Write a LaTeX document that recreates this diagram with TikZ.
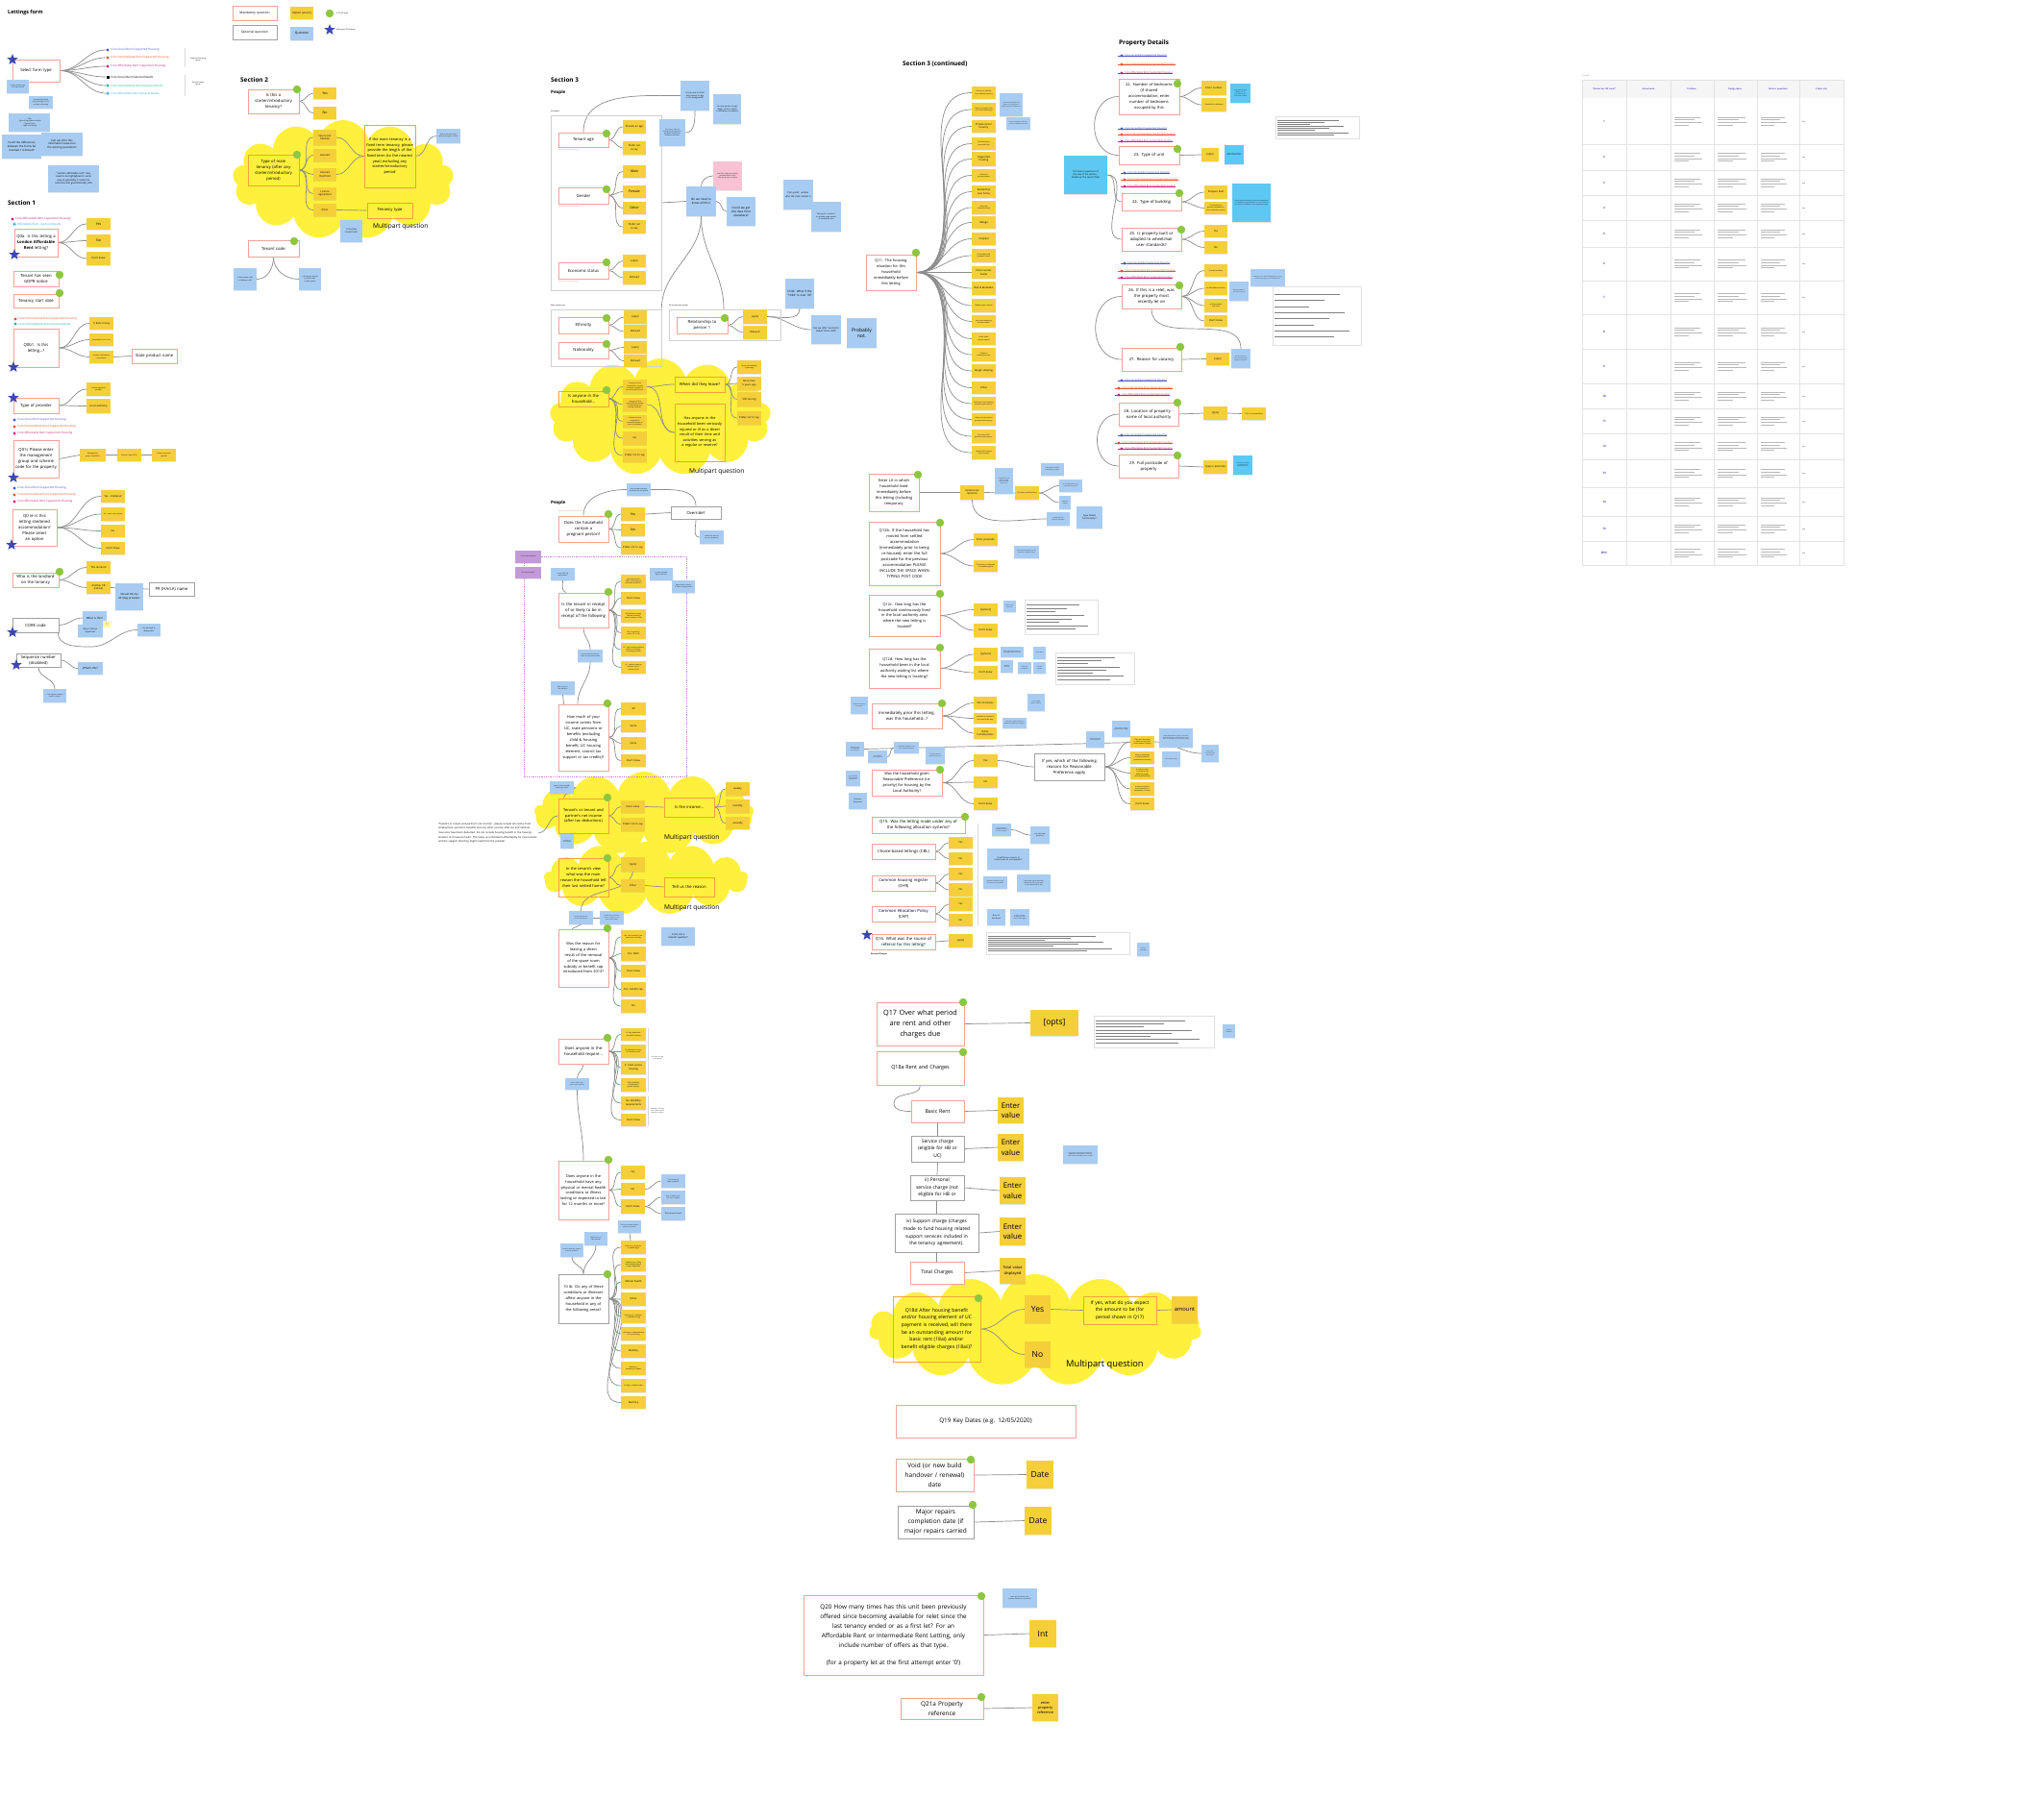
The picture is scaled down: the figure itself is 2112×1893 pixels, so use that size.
\documentclass[tikz,border=0pt]{standalone}
\usepackage{fontspec}
\setmainfont{Open Sans}
\usetikzlibrary{shapes.geometric,shapes.symbols,shadows,calc}
\hyphenpenalty=10000 \exhyphenpenalty=10000
\definecolor{salm}{HTML}{EFA397}
\definecolor{greyb}{HTML}{A0A0A0}
\definecolor{orab}{HTML}{F2A23C}
\definecolor{yel}{HTML}{F5CF3A}
\definecolor{cloudy}{HTML}{FEF03C}
\definecolor{bluen}{HTML}{A8CCF1}
\definecolor{bright}{HTML}{5DC8F4}
\definecolor{pinkn}{HTML}{F6C2D4}
\definecolor{purpn}{HTML}{C39AD9}
\definecolor{gdot}{HTML}{8DC641}
\definecolor{starc}{HTML}{3D47B2}
\definecolor{conn}{HTML}{8C8C8C}
\definecolor{cSoc}{HTML}{4B55C8}
\definecolor{cInt}{HTML}{E8512E}
\definecolor{cAff}{HTML}{C8207E}
\definecolor{cIGN}{HTML}{1CB598}
\definecolor{cAGN}{HTML}{3DA5E0}
\definecolor{tabh}{HTML}{5B45C2}
\definecolor{gridc}{HTML}{E3E3E3}
\pgfdeclarelayer{back}\pgfdeclarelayer{cloudl}\pgfdeclarelayer{bg}
\pgfsetlayers{back,cloudl,bg,main}
\newcommand\fs[2]{\fontsize{#1}{#2}\selectfont}
\newcommand\Bx[7]{%
 \pgfmathsetmacro\bw{#5-#3}\pgfmathsetmacro\bh{#6-#4}%
 \pgfmathsetmacro\bcx{(#3+#5)/2}\pgfmathsetmacro\bcy{(#4+#6)/2}%
 \pgfmathsetmacro\btw{max(#5-#3-4,1)}%
 \node[inner sep=0pt, align=center, minimum width=\bw pt, minimum height=\bh pt, text width=\btw pt, #1] (#2) at (\bcx,\bcy) {#7};}
\newcommand\Dot[2]{\fill[gdot] (#1,#2) circle (4.2);}
\newcommand\St[3]{\node[star, star points=5, star point ratio=2.4, fill=starc, minimum size=12pt, inner sep=0pt] (#1) at (#2,#3) {};}
\newcommand\Ln[1]{\begin{pgfonlayer}{bg}\draw[cn] #1;\end{pgfonlayer}}
\newcommand\Fan[2]{\begin{pgfonlayer}{bg}\foreach \fn in {#2}{\draw[cn] (#1.east) to[out=0,in=180] (\fn.west);}\end{pgfonlayer}}
\newcommand\Lg[5]{\fill[#4] (#2,#3) circle (1.6); \node[anchor=west, text=#4, inner sep=0pt, font=\fs{3}{3.5}] (#1) at (#2+3,#3) {#5};}
\newcommand\LgQ[5]{\fill[#4] (#2-1.5,#3-1.5) rectangle ++(3,3); \node[anchor=west, text=#4, inner sep=0pt, font=\fs{3}{3.5}] (#1) at (#2+3,#3) {#5};}
\newcommand\LgT[5]{\fill[#4] (#2,#3-1.8) -- (#2+1.8,#3+1.4) -- (#2-1.8,#3+1.4) -- cycle; \node[anchor=west, text=#4, inner sep=0pt, font=\fs{3}{3.5}] (#1) at (#2+3,#3) {#5};}
\newcommand\LgX[5]{\node[anchor=west, text=#4, inner sep=0pt, font=\fs{2.6}{3}] (#1) at (#2+3,#3) {#5}; \draw[#4, line width=0.4pt] (#2-4,#3) -- (#1.east); \fill[#4] (#2,#3) circle (1.6);}
\newcommand\Shot[5]{\Bx{fill=white,draw=black!12,line width=0.3pt}{#1}{#2}{#3}{#4}{#5}{}%
 \pgfmathsetmacro\shh{#5-#3}\pgfmathsetmacro\shw{#4-#2-4}%
 \foreach \k in {1,...,8}{\draw[black!50,line width=0.5pt] ({#2+2},{#3+2+\k*(\shh-4)/9}) -- ++({\shw*(0.35+0.06*mod(\k*37,10))},0);}}
\tikzset{
 cn/.style={draw=conn, line width=0.7pt},
 mq/.style={draw=salm, line width=0.9pt, fill=white, font=\fs{4.2}{6}},
 oq/.style={draw=greyb, line width=0.9pt, fill=white, font=\fs{4.2}{6}},
 cq/.style={draw=orab, line width=0.9pt, font=\fs{4.2}{6}},
 shd/.style={drop shadow={shadow xshift=0pt, shadow yshift=-1pt, opacity=0.18}},
 yo/.style={fill=yel, shd, font=\fs{3.5}{4.5}},
 ys/.style={fill=yel, shd, font=\fs{2.6}{3.4}},
 yt/.style={fill=yel, shd, font=\fs{1.7}{2.2}},
 bn/.style={fill=bluen, shd, font=\fs{2.2}{2.9}},
 bb/.style={fill=bright, shd, font=\fs{2.4}{3.2}},
 pn/.style={fill=pinkn, shd, font=\fs{1.6}{2.1}},
 ttl/.style={font=\bfseries\fs{6.4}{8}, anchor=west, inner sep=0pt},
 mp/.style={font=\fs{6.6}{8}, anchor=west, inner sep=0pt},
 cont/.style={draw=black!18, line width=0.6pt},
 tn/.style={font=\fs{1.9}{2.4}, anchor=west, inner sep=0pt},
 cld/.style={cloud, cloud puffs=13, cloud ignores aspect, fill=cloudy, inner sep=0pt},
}
\begin{document}
\begin{tikzpicture}[x=1pt,y=-1pt]
\begin{pgfonlayer}{back}
\fill[white] (0,0) rectangle (2112,1893);
\end{pgfonlayer}
\useasboundingbox (0,0) rectangle (2112,1893);
% ---------------- clouds
\begin{pgfonlayer}{cloudl}
\node[cld, minimum width=230pt, minimum height=124pt] (cl1) at (357,187) {};
\node[cld, minimum width=230pt, minimum height=122pt] (cl2) at (687,434) {};
\node[cld, minimum width=228pt, minimum height=86pt] (cl3) at (670,846) {};
\node[cld, minimum width=212pt, minimum height=76pt] (cl4) at (672,914) {};
\node[cld, cloud puffs=15, minimum width=345pt, minimum height=116pt] (cl5) at (1077,1384) {};
\end{pgfonlayer}
% ---------------- legend
\node[ttl, font=\bfseries\fs{5.4}{7}] (t0) at (8,13) {Lettings form};
\Bx{mq,font=\fs{3.3}{4.3}}{lgM}{242}{6}{288}{21}{Mandatory question}
\Bx{oq,font=\fs{3.3}{4.3}}{lgO}{242}{26}{288}{41}{Optional question}
\Bx{yo,font=\fs{2.8}{3.5}}{lgY}{302}{7}{326}{20}{Option (enum)}
\Bx{bn,font=\fs{3.3}{4}}{lgB}{302}{28}{326}{42}{Question}
\Dot{343}{14}
\node[tn] (lgD) at (350,14) {In TG-68 map};
\St{lgS}{343}{31}
\node[tn] (lgSt) at (350,31) {Missing in TG-68 map};
% ---------------- select form type
\Bx{mq}{sft}{13}{62}{62}{85}{Select form type}
\St{s0}{13}{62}
\Lg{f1}{112}{52}{cSoc}{Core Social Rent Supported Housing}
\Lg{f2}{112}{60}{cInt}{Core Intermediate Rent Supported Housing}
\Lg{f3}{112}{69}{cAff}{Core Affordable Rent Supported Housing}
\LgQ{f4}{112}{80}{black}{Core Social Rent General Needs}
\Lg{f5}{112}{89}{cIGN}{Core Intermediate Rent General Needs}
\LgT{f6}{112}{97}{cAGN}{Core Affordable Rent General Needs}
\begin{pgfonlayer}{bg}
\foreach \fn in {f1,f2,f3,f4,f5,f6}{\draw[cn] (sft.east) to[out=0,in=180] ($(\fn.west)+(-5,0)$);}
\end{pgfonlayer}
\draw[black!15] (192,50) -- (192,70) (192,78) -- (192,100);
\node[font=\fs{1.8}{2.3}, align=center, inner sep=0pt] (grpS) at (206,62) {Supported housing\\group};
\node[font=\fs{1.8}{2.3}, align=center, inner sep=0pt] (grpG) at (206,87) {General needs\\group};
\Bx{bn,font=\fs{1.6}{2.1}}{n1}{7}{83}{30}{97}{Is there a way to get rid of this choice?}
\Bx{bn,font=\fs{1.6}{2.1}}{n2}{30}{100}{55}{113}{Automatically decide using what type of unit and type of housing}
\Bx{bn,font=\fs{1.8}{2.4}}{n3}{9}{118}{52}{137}{- Year\\- Type of tag (new or active)\\- Type of form\\- Type of housing}
\Bx{bn,font=\fs{2.8}{3.7}}{n4}{2}{140}{43}{165}{Could the differences between the forms be resolved / removed?}
\Bx{bn,font=\fs{2.8}{3.7}}{n5}{43}{138}{86}{162}{Can we infer this information based on the existing questions?}
\Bx{bn,font=\fs{2.5}{3.4}}{n6}{50}{172}{103}{200}{"London affordable rent" may need to be highlighted in some way as generally it make the sentence feel grammatically odd}
% ---------------- Section 1
\node[ttl] (t1) at (8,211) {Section 1};
\Lg{l1a}{13}{228}{cAff}{Core Affordable Rent Supported Housing}
\LgT{l1b}{15}{233}{cAGN}{Affordable Rent - General Needs}
\Bx{mq}{q0a}{15}{238}{60}{267}{Q0a. Is this letting a \textbf{London Affordable Rent} letting?}
\St{s1}{15}{265}
\Bx{yo}{q0aY}{90}{227}{115}{239}{Yes}
\Bx{yo}{q0aN}{90}{244}{115}{257}{No}
\Bx{ys}{q0aD}{90}{262}{115}{276}{Don't know}
\Fan{q0a}{q0aY,q0aN,q0aD}
\Bx{mq}{gdpr}{14}{282}{61}{298}{Tenant has seen GDPR notice}
\Dot{62}{286}
\Bx{mq}{tsd}{14}{306}{61}{320}{Tenancy start date}
\Dot{62}{305}
\Lg{l1c}{16}{332}{cInt}{Core Intermediate Rent Supported Housing}
\Lg{l1d}{16}{337}{cIGN}{Core Intermediate Rent General Needs}
\Bx{mq}{q0b}{14}{342}{61}{382}{Q0b1. Is this letting...?}
\St{s2}{14}{382}
\Bx{ys}{q0b1}{93}{330}{118}{343}{1) Rent to buy}
\Bx{yt}{q0b2}{93}{347}{118}{360}{Intermediate rent / rent}
\Bx{yt}{q0b3}{93}{365}{118}{378}{Another intermediate rent product}
\Fan{q0b}{q0b1,q0b2,q0b3}
\Bx{mq}{spn}{137}{363}{184}{378}{State product name}
\Ln{(q0b3.east) -- (spn.west)}
\Bx{mq}{topv}{14}{414}{61}{430}{Type of provider}
\St{s3}{14}{414}
\Bx{yt}{topP}{90}{398}{115}{412}{Private registered provider}
\Bx{ys}{topL}{90}{415}{115}{430}{Local authority}
\Fan{topv}{topP,topL}
\Lg{l1e}{15}{437}{cSoc}{Core Social Rent Supported Housing}
\Lg{l1f}{15}{444}{cInt}{Core Intermediate Rent Supported Housing}
\Lg{l1g}{15}{451}{cAff}{Core Affordable Rent Supported Housing}
\Bx{mq}{q01c}{14}{458}{61}{497}{Q01c Please enter the management group and scheme code for the property}
\St{s4}{14}{497}
\Bx{yt}{mg}{83}{467}{110}{480}{Management group code (MPG)}
\Bx{yt}{sc}{122}{467}{147}{480}{Scheme Code (OPTS)}
\Bx{yt}{spc}{158}{467}{183}{480}{Scheme postcode (autofill)}
\Ln{(q01c.east) -- (mg.west)}
\Ln{(mg.east) -- (sc.west)}
\Ln{(sc.east) -- (spc.west)}
\Lg{l1h}{15}{508}{cSoc}{Core Social Rent Supported Housing}
\Lg{l1i}{15}{515}{cInt}{Core Intermediate Rent Supported Housing}
\Lg{l1j}{15}{522}{cAff}{Core Affordable Rent Supported Housing}
\Bx{mq}{q0ie}{13}{530}{59}{568}{Q0 Ie is this letting sheltered accommodation? Please select an option}
\St{s5}{12}{567}
\Bx{ys}{shA}{105}{510}{130}{523}{Yes - sheltered}
\Bx{yt}{shB}{105}{528}{130}{542}{Yes - extra care housing}
\Bx{ys}{shC}{105}{546}{130}{559}{No}
\Bx{ys}{shD}{105}{564}{130}{577}{Don't know}
\Fan{q0ie}{shA,shB,shC,shD}
\Bx{mq}{lord}{13}{596}{61}{611}{Who is the landlord on the tenancy}
\Dot{62}{595}
\Bx{ys}{lordA}{90}{584}{115}{597}{This landlord}
\Bx{ys}{lordB}{90}{605}{115}{618}{Another PR (HA/LA)}
\Fan{lord}{lordA,lordB}
\Bx{bn,font=\fs{2.7}{3.6}}{rpq}{120}{607}{149}{635}{Should this be RP (Reg provider)}
\Bx{oq}{prn}{155}{606}{202}{620}{PR (HA/LA) name}
\Ln{(lordB.east) -- (prn.west)}
\Bx{oq}{core}{13}{643}{61}{658}{CORE code}
\St{s6}{13}{658}
\Bx{bn,font=\fs{2.8}{3.6}}{wit}{86}{636}{111}{650}{What is this?}
\Bx{bn}{wib}{81}{650}{107}{663}{Why is this an input box?}
\Bx{fill=yellow!40,font=\fs{2}{2.5}}{qq}{107}{646}{115}{653}{??}
\Bx{bn,font=\fs{1.9}{2.5}}{dis}{143}{649}{167}{662}{Do we need to display this?}
\Ln{(core.east) to[out=0,in=180] (wit.west)}
\Ln{($(core.south east)+(-1,0)$) to[out=-90,in=180] (95,673) to[out=0,in=180] (dis.west)}
\Bx{oq}{seq}{17}{680}{63}{694}{Sequence number (disabled)}
\St{s7}{17}{692}
\Bx{bn,font=\fs{2.8}{3.6}}{wts}{81}{689}{107}{702}{What's this?}
\Bx{bn,font=\fs{1.5}{2}}{seqn}{45}{717}{69}{731}{Is the sequence number useful for tag ID?}
\Ln{(seq.east) to[out=0,in=180] (wts.west)}
\Ln{(seq.south) to[out=-90,in=90] (seqn.north)}
% ---------------- Section 2
\node[ttl] (t2) at (250,83) {Section 2};
\Bx{mq}{stq}{258}{93}{311}{118}{Is this a\\starter/introductory\\tenancy?}
\Dot{309}{93}
\Bx{yo}{stY}{326}{91}{350}{103}{Yes}
\Bx{yo}{stN}{326}{111}{350}{124}{No}
\Fan{stq}{stY,stN}
\Bx{cq}{tmt}{258}{161}{311}{193}{Type of main tenancy (after any starter/introductory period)}
\Dot{309}{161}
\Bx{ys}{tm1}{326}{135}{350}{151}{Secure (inc flexible)}
\Bx{ys}{tm2}{326}{155}{350}{168}{Assured}
\Bx{ys}{tm3}{326}{175}{350}{188}{Assured Shorthold}
\Bx{ys}{tm4}{326}{195}{350}{208}{Licence Agreement}
\Bx{ys}{tm5}{326}{212}{350}{225}{Other}
\Fan{tmt}{tm1,tm2,tm3,tm4,tm5}
\Bx{cq,font=\fs{3.9}{5.6}}{fxt}{379}{130}{432}{195}{If the main tenancy is a fixed term tenancy, please provide the length of the fixed term (to the nearest year) excluding any starter/introductory period}
\Bx{cq}{tty}{382}{211}{429}{227}{Tenancy type}
\Ln{(tm1.east) to[out=0,in=180] (fxt.west)}
\Ln{(tm3.east) to[out=0,in=180] (fxt.west)}
\Ln{(tm5.east) -- (tty.west)}
\Bx{bn,font=\fs{1.5}{2}}{fxn}{454}{134}{479}{149}{How do the users know what tenancy type is "fixed"?}
\Ln{(fxt.east) to[out=0,in=180] (fxn.west)}
\node[mp] (mp1) at (388,236) {Multipart question};
\Bx{bn,font=\fs{2.2}{2.9}}{flw}{354}{229}{377}{252}{Is the flow correct here?}
\Bx{mq}{tcd}{258}{250}{311}{267}{Tenant code}
\Dot{306}{251}
\Bx{bn,font=\fs{1.8}{2.4}}{tc1}{243}{279}{267}{302}{Is this tenant code or tenancy code?}
\Bx{bn,font=\fs{1.6}{2.1}}{tc2}{311}{279}{334}{302}{Is this always entered by the provider in their system?}
\Ln{(tcd.south) to[out=-90,in=0] (tc1.east)}
\Ln{(tcd.south) to[out=-90,in=180] (tc2.west)}
% ---------------- Section 3 people
\node[ttl] (t3) at (573,83) {Section 3};
\node[ttl, font=\bfseries\fs{4.5}{6}] (ppl1) at (573,96) {People};
\node[tn] (apl) at (573,116) {All people};
\Bx{cont}{c1}{573}{120}{688}{302}{}
\Bx{mq}{tage}{581}{138}{633}{153}{Tenant age}
\Dot{631}{139}
\node[tn, text=red!60, font=\fs{1.5}{2}] (tagr) at (581,156) {Required for new tenants only};
\Bx{ys}{ta1}{648}{125}{672}{139}{Provide an age}
\Bx{ys}{ta2}{648}{147}{672}{161}{Prefer not to say}
\Fan{tage}{ta1,ta2}
\Bx{mq}{gen}{581}{195}{633}{212}{Gender}
\Dot{631}{197}
\node[tn, text=red!60, font=\fs{1.5}{2}] (genr) at (581,215) {Required for new tenants only};
\Bx{yo}{g1}{648}{172}{672}{185}{Male}
\Bx{yo}{g2}{648}{193}{672}{206}{Female}
\Bx{yo}{g3}{648}{210}{672}{223}{Other}
\Bx{ys}{g4}{648}{229}{672}{243}{Prefer not to say}
\Fan{gen}{g1,g2,g3,g4}
\Bx{mq}{eco}{581}{273}{633}{290}{Economic status}
\Dot{631}{273}
\node[tn, text=red!60, font=\fs{1.5}{2}] (ecor) at (581,293) {Required for new tenants only};
\Bx{ys}{e1}{648}{265}{672}{278}{[opts]}
\Bx{ys}{e2}{648}{282}{672}{296}{Refused}
\Fan{eco}{e1,e2}
\Bx{bn,font=\fs{2}{2.7}}{dob}{708}{84}{738}{115}{Can we ask for DOB and convert to age in the background?}
\Bx{bn,font=\fs{2}{2.7}}{arng}{742}{98}{771}{129}{Can we ask for an age range? (If this is what is ultimately in analysis)}
\Bx{bn,font=\fs{1.5}{2}}{ppa}{686}{124}{713}{152}{Pain point: some of having to enter age when age would otherwise be a different calculation}
\Ln{(tage.north) to[out=90,in=180] (dob.west)}
\Ln{(ppa.east) to[out=0,in=-90] (dob.south)}
\Bx{pn}{pnk}{742}{168}{772}{198}{Useful for helping to identify trends/patterns across different groups of tenants}
\Bx{bn,font=\fs{3}{4}}{dwn}{714}{194}{745}{225}{Do we need to know all this?}
\Bx{bn,font=\fs{3}{4}}{cwg}{756}{205}{786}{235}{Could we get this data from elsewhere?}
\Bx{bn,font=\fs{2.4}{3.2}}{pp1n}{815}{187}{846}{218}{Pain point: unclear who the main tenant is}
\Bx{bn,font=\fs{1.9}{2.5}}{pp2n}{844}{210}{875}{241}{Pain point: unclear if to include main tenant in household size}
\Ln{(688,211) -- (dwn.west)}
\Ln{(dwn.north) to[out=90,in=180] (pnk.west)}
\Ln{(dwn.east) to[out=0,in=180] (cwg.west)}
\node[tn] (mto) at (573,318) {Main tenant only};
\Bx{cont}{c2}{573}{322}{688}{381}{}
\node[tn] (aem) at (696,318) {All except main tenant};
\Bx{cont}{c3}{696}{322}{812}{354}{}
\Ln{(dwn.south) to[out=-90,in=90] (c2.north east)}
\Ln{(dwn.south) to[out=-90,in=90] (753,322)}
\Bx{mq}{eth}{581}{330}{633}{347}{Ethnicity}
\Dot{631}{331}
\Bx{ys}{et1}{649}{323}{673}{337}{[opts]}
\Bx{ys}{et2}{649}{338}{673}{352}{Refused}
\Fan{eth}{et1,et2}
\Bx{mq}{nat}{581}{356}{633}{373}{Nationality}
\Dot{631}{358}
\Bx{ys}{na1}{649}{355}{673}{368}{[opts]}
\Bx{ys}{na2}{649}{369}{673}{382}{Refused}
\Fan{nat}{na1,na2}
\Bx{mq}{rel}{704}{330}{757}{347}{Relationship to\\person 1}
\Dot{754}{331}
\Bx{ys}{re1}{773}{322}{798}{337}{[opts]}
\Bx{ys}{re2}{773}{339}{798}{353}{Refused}
\Fan{rel}{re1,re2}
\Bx{bn,font=\fs{3}{4}}{chd}{817}{290}{847}{321}{Child: What if the "child" is over 18?}
\Bx{bn,font=\fs{2.4}{3.3}}{infc}{844}{328}{875}{358}{Can we infer "economic status" from child?}
\Bx{bn,font=\fs{5}{6.4}}{pbn}{881}{331}{912}{362}{Probably not.}
\Ln{(re1.east) to[out=0,in=-90] (chd.south)}
\Ln{(re1.east) to[out=0,in=180] (infc.west)}
% armed forces cloud
\Bx{cq}{anyq}{581}{407}{633}{423}{Is anyone in the household...}
\Dot{631}{406}
\Bx{yt}{an1}{648}{395}{673}{410}{Is anyone in the household a current or former member of the UK Armed Forces?}
\Bx{yt}{an2}{648}{414}{673}{428}{Is anyone in the household the spouse or civil partner of a serving member?}
\Bx{yt}{an3}{648}{432}{673}{445}{Is anyone in the household a bereaved spouse of a service member?}
\Bx{ys}{an4}{648}{449}{673}{463}{No}
\Bx{ys}{an5}{648}{467}{673}{481}{Prefer not to say}
\Fan{anyq}{an1,an2,an3,an4,an5}
\Bx{cq}{wdl}{702}{392}{754}{408}{When did they leave?}
\Bx{cq,font=\fs{3.8}{5.6}}{inj}{702}{420}{754}{480}{Has anyone in the household been seriously injured or ill as a direct result of their time and activities serving as a regular or reserve?}
\Ln{(an1.east) to[out=0,in=180] (wdl.west)}
\Ln{(an1.east) to[out=0,in=180] (inj.west)}
\Ln{(an2.east) to[out=0,in=180] (inj.west)}
\Bx{yt}{wl1}{767}{375}{792}{389}{Up to and including 5 years ago}
\Bx{ys}{wl2}{767}{392}{792}{406}{More than 5 years ago}
\Bx{ys}{wl3}{767}{408}{792}{423}{Still serving}
\Bx{ys}{wl4}{767}{428}{792}{442}{Prefer not to say}
\Fan{wdl}{wl1,wl2,wl3,wl4}
\node[mp] (mp2) at (717,491) {Multipart question};
% ---------------- People 2
\node[ttl, font=\bfseries\fs{4.5}{6}] (ppl2) at (573,523) {People};
\Bx{bn,font=\fs{1.5}{2}}{pgq}{652}{503}{677}{516}{Is this pregnant member included in the household?}
\Bx{mq}{prg}{581}{537}{633}{564}{Does the household contain a pregnant person?}
\Dot{633}{535}
\node[tn, text=red!60, font=\fs{1.5}{2}] (prgr) at (581,532) {Why is this asked? Is this data used?};
\Bx{yo}{pg1}{646}{528}{671}{542}{Yes}
\Bx{yo}{pg2}{646}{545}{671}{558}{No}
\Bx{ys}{pg3}{646}{563}{671}{577}{Prefer not to say}
\Fan{prg}{pg1,pg2,pg3}
\Bx{oq}{ovr}{698}{527}{750}{540}{Override?}
\Bx{bn,font=\fs{1.5}{2}}{ovn}{728}{552}{753}{566}{Should this override be in the questions?}
\Ln{(pg1.east) -- (ovr.west)}
\Ln{(prg.north) to[out=90,in=180] (pgq.west)}
\Ln{(pgq.east) to[out=0,in=90] (ovr.north)}
\Ln{(ovr.south) to[out=-90,in=180] (ovn.west)}
\draw[densely dotted, draw=purpn!80!magenta, line width=0.8pt] (545,579) rectangle (714,808);
\Bx{fill=purpn,shd,font=\fs{1.5}{2}}{pu1}{536}{573}{563}{586}{Is this a new question?}
\Bx{fill=purpn,shd,font=\fs{1.5}{2}}{pu2}{536}{590}{563}{602}{Are these needed?}
\Bx{mq}{rcpt}{581}{617}{633}{653}{Is the tenant in receipt of or likely to be in receipt of the following}
\Dot{633}{616}
\Bx{yt}{rc1}{646}{598}{672}{612}{Housing Benefit (HB) or in receipt of Universal Credit (UC)}
\Bx{ys}{rc2}{646}{616}{672}{629}{Don't know}
\Bx{yt}{rc3}{646}{634}{672}{648}{UC (without housing element) and HB (and in receipt of HB)}
\Bx{yt}{rc4}{646}{652}{672}{665}{Not in receipt of either UC or HB}
\Bx{yt}{rc5}{646}{669}{672}{683}{UC - with housing element (and not in receipt of housing benefit)}
\Bx{yt}{rc6}{646}{688}{672}{701}{UC - without housing element (and in receipt of HB)}
\Fan{rcpt}{rc1,rc2,rc3,rc4,rc5,rc6}
\Bx{bn,font=\fs{1.6}{2.1}}{jmt}{573}{591}{598}{604}{Is this JUST the main tenant?}
\Bx{bn,font=\fs{1.6}{2.1}}{btw}{676}{591}{700}{604}{Is there a better way to ask this?}
\Bx{bn,font=\fs{1.5}{2}}{msrc}{699}{604}{723}{617}{Maybe find out source of "their" housing benefit}
\Ln{(jmt.south) to[out=-90,in=160] ($(rcpt.north west)+(8,0)$)}
\Bx{bn,font=\fs{1.4}{1.9}}{cfr}{601}{676}{627}{689}{Could we infer this from the answer to the question below?}
\Bx{bn,font=\fs{1.5}{2}}{wyu}{573}{709}{598}{723}{Who is "you" in this question?}
\Bx{mq,font=\fs{3.9}{5.9}}{hmi}{581}{733}{633}{802}{How much of your income comes from UC, state pensions or benefits (excluding child \& housing benefit, UC housing element, council tax support or tax credits)?}
\Dot{632}{732}
\Bx{ys}{hm1}{646}{731}{672}{744}{All}
\Bx{ys}{hm2}{646}{749}{672}{762}{Some}
\Bx{ys}{hm3}{646}{767}{672}{780}{None}
\Bx{ys}{hm4}{646}{785}{672}{798}{Don't know}
\Fan{hmi}{hm1,hm2,hm3,hm4}
\Ln{(rcpt.south) to[out=-90,in=90] (cfr.north)}
\Ln{(cfr.south) to[out=-90,in=90] ($(hmi.north)+(-6,0)$)}
\Ln{(wyu.south) to[out=-90,in=90] ($(hmi.north west)+(6,0)$)}
% income cloud
\Bx{cq,font=\fs{3.9}{5.8}}{nin}{581}{831}{633}{867}{Tenant's or tenant and partner's net income (after tax deductions)}
\Dot{632}{830}
\Bx{ys}{ni1}{646}{833}{671}{846}{Enter value}
\Bx{ys}{ni2}{646}{851}{671}{865}{Prefer not to say}
\Fan{nin}{ni1,ni2}
\Bx{cq}{isi}{691}{830}{743}{850}{Is the income...}
\Ln{(ni1.east) -- (isi.west)}
\Bx{ys}{wk}{755}{814}{780}{828}{weekly}
\Bx{ys}{mo}{755}{832}{780}{846}{monthly}
\Bx{ys}{yr}{755}{850}{780}{863}{annually}
\Fan{isi}{wk,mo,yr}
\node[mp] (mp3) at (691,872) {Multipart question};
\Bx{bn,font=\fs{1.5}{2}}{nb1}{572}{813}{597}{826}{What if we are actually trying to get here?}
\Bx{bn,font=\fs{1.2}{1.6}}{nb2}{583}{868}{597}{883}{Could we ask this differently?}
\Ln{(nb1.east) to[out=0,in=90] ($(nin.north west)+(6,0)$)}
\node[font=\fs{2.6}{4.6}, text width=104pt, align=left, inner sep=0pt, anchor=north west] (para) at (456,856) {"Tenant's or tenant and partner's net income" - please include all income from employment, pensions, benefits and any other sources after tax and national insurance have been deducted. Do not include housing benefit or the housing element of Universal Credit. This helps us understand affordability for new tenants and the support that they might need from the provider.};
\Ln{(para.east) to[out=0,in=180] (nin.west)}
% reason cloud
\Bx{cq,font=\fs{3.9}{5.8}}{rsn}{581}{893}{633}{933}{In the tenant's view what was the main reason the household left their last settled home?}
\Dot{632}{893}
\Bx{ys}{rs1}{646}{892}{671}{907}{[opts]}
\Bx{ys}{rs2}{646}{915}{671}{928}{Other}
\Fan{rsn}{rs1,rs2}
\Bx{cq}{tur}{691}{913}{743}{933}{Tell us the reason}
\Ln{(rs2.east) -- (tur.west)}
\node[mp] (mp4) at (691,945) {Multipart question};
\Bx{bn,font=\fs{1.3}{1.8}}{rb1}{592}{948}{617}{962}{Can we have this from the last settled home?}
\Bx{bn,font=\fs{1.3}{1.8}}{rb2}{624}{948}{649}{962}{Do we need to know the reason, or only if it is one of the reasons below?}
\Ln{(rb1.east) -- (rb2.west)}
\Ln{(rs1.south) to[out=-100,in=90] (rb1.north)}
\Bx{mq,font=\fs{3.9}{5.8}}{wtr}{581}{967}{633}{1027}{Was the reason for leaving a direct result of the removal of the spare room subsidy or benefit cap introduced from 2013?}
\Dot{632}{966}
\Ln{(rb1.south) -- ($(wtr.north)+(-12,0)$)}
\Bx{yt}{wr1}{646}{968}{672}{982}{Yes: the removal of the spare room subsidy}
\Bx{ys}{wr2}{646}{985}{672}{1000}{Yes: Both}
\Bx{ys}{wr3}{646}{1004}{672}{1017}{Don't know}
\Bx{ys}{wr4}{646}{1022}{672}{1037}{Yes: benefit cap}
\Bx{ys}{wr5}{646}{1040}{672}{1054}{No}
\Fan{wtr}{wr1,wr2,wr3,wr4,wr5}
\Bx{bn,font=\fs{2.4}{3.2}}{srq}{688}{965}{723}{984}{Is this still a relevant question?}
% requirements
\Bx{mq}{req}{581}{1081}{633}{1107}{Does anyone in the household require...}
\Dot{632}{1080}
\Bx{yt}{rq1}{646}{1070}{672}{1083}{A: Fully wheelchair accessible housing}
\Bx{yt}{rq2}{646}{1087}{672}{1101}{B: Wheelchair access to essential rooms}
\Bx{ys}{rq3}{646}{1104}{672}{1118}{C: Level access housing}
\Bx{yt}{rq4}{646}{1122}{672}{1136}{Other disability requirements (please specify)}
\Bx{ys}{rq5}{646}{1141}{672}{1155}{No disability requirements}
\Bx{ys}{rq6}{646}{1159}{672}{1172}{Don't know}
\Fan{req}{rq1,rq2,rq3,rq4,rq5,rq6}
\draw[black!15] (674,1070) -- (674,1136) (674,1141) -- (674,1172);
\node[font=\fs{1.4}{1.9}, text width=15pt, align=center, inner sep=0pt] (rqn1) at (684,1101) {Can select as many as are relevant};
\node[font=\fs{1.4}{1.9}, text width=15pt, align=center, inner sep=0pt] (rqn2) at (684,1156) {Validation: selecting one of these should deselect any others};
\Bx{bn,font=\fs{1.3}{1.8}}{rqb}{588}{1122}{613}{1134}{Can we reduce these require health questions?}
\Ln{(req.south) to[out=-90,in=90] (rqb.north)}
% health
\Bx{mq,font=\fs{3.9}{5.8}}{hlt}{581}{1208}{633}{1269}{Does anyone in the household have any physical or mental health conditions or illness lasting or expected to last for 12 months or more?}
\Dot{633}{1207}
\Ln{(rqb.south) to[out=-90,in=90] (hlt.north)}
\Bx{ys}{hl1}{646}{1213}{671}{1227}{Yes}
\Bx{ys}{hl2}{646}{1231}{671}{1244}{No}
\Bx{ys}{hl3}{646}{1248}{671}{1263}{Don't know}
\Fan{hlt}{hl1,hl2,hl3}
\Bx{bn,font=\fs{1.5}{2}}{hb1}{688}{1222}{713}{1236}{Say "not asking health questions"}
\Bx{bn,font=\fs{1.5}{2}}{hb2}{688}{1239}{713}{1253}{Why is "prefer not to say" not an option?}
\Bx{bn,font=\fs{1.9}{2.5}}{hb3}{688}{1256}{713}{1270}{Who doesn't know?}
\Ln{(hl2.east) to[out=0,in=180] (hb1.west)}
\Ln{(hl3.east) to[out=0,in=180] (hb2.west)}
\Ln{(hl3.east) to[out=0,in=180] (hb3.west)}
% 10ib
\Bx{oq,font=\fs{3.9}{5.8}}{ten}{581}{1326}{633}{1377}{10 ib. Do any of these conditions or illnesses affect anyone in the household in any of the following areas?}
\Dot{632}{1326}
\Bx{yt}{tn1}{646}{1291}{672}{1305}{Vision (e.g. blindness or partial sight)}
\Bx{yt}{tn2}{646}{1309}{672}{1323}{Dexterity (e.g. lifting and carrying objects, using a keyboard)}
\Bx{ys}{tn3}{646}{1327}{672}{1341}{Mental health}
\Bx{ys}{tn4}{646}{1345}{672}{1359}{Other}
\Bx{yt}{tn5}{646}{1363}{672}{1377}{Hearing (e.g. deafness or partial hearing)}
\Bx{yt}{tn6}{646}{1381}{672}{1395}{Learning or understanding or concentrating}
\Bx{ys}{tn7}{646}{1399}{672}{1413}{Mobility}
\Bx{yt}{tn8}{646}{1417}{672}{1431}{Stamina or breathing or fatigue}
\Bx{yt}{tn9}{646}{1435}{672}{1449}{Socially or behaviourally}
\Bx{ys}{tn10}{646}{1453}{672}{1466}{Memory}
\Fan{ten}{tn1,tn2,tn3,tn4,tn5,tn6,tn7,tn8,tn9,tn10}
\Bx{bn,font=\fs{1.4}{1.9}}{tb1}{643}{1270}{667}{1283}{Can we show these options based on previous?}
\Bx{bn,font=\fs{1.5}{2}}{tb2}{608}{1282}{632}{1296}{Why is this not fully optional?}
\Bx{bn,font=\fs{1.4}{1.9}}{tb3}{583}{1294}{607}{1308}{Could we show this question based on previous?}
\Ln{(tb2.south) to[out=-90,in=90] (ten.north)}
\Ln{(tb3.south) to[out=-90,in=90] (ten.north)}
\Ln{(tb1.south) -- ($(tn1.north)+(-3,0)$)}
% ---------------- Section 3 continued
\node[ttl] (t3c) at (939,67) {Section 3 (continued)};
\Bx{mq,font=\fs{3.9}{5.8}}{q11}{901}{265}{953}{302}{Q11. The housing\\situation for this\\household\\immediately before\\this letting}
\Dot{953}{263}
\Bx{yt}{o1}{1011}{90}{1036}{103}{Secure (inc flexible) local authority tenancy}
\Bx{yt}{o2}{1011}{107}{1036}{121}{Owner occupation (low cost home ownership)}
\Bx{ys}{o3}{1011}{125}{1036}{138}{Private sector tenancy}
\Bx{yt}{o4}{1011}{143}{1036}{156}{Tied housing or rented with job}
\Bx{ys}{o5}{1011}{158}{1036}{173}{Supported housing}
\Bx{yt}{o6}{1011}{176}{1036}{189}{Sheltered accommodation}
\Bx{ys}{o7}{1011}{193}{1036}{206}{Residential care home}
\Bx{yt}{o8}{1011}{209}{1036}{223}{Living with friends or family}
\Bx{ys}{o9}{1011}{225}{1036}{238}{Refuge}
\Bx{ys}{o10}{1011}{242}{1036}{255}{Hospital}
\Bx{yt}{o11}{1011}{259}{1036}{273}{Prison/Approved probation hostel}
\Bx{ys}{o12}{1011}{277}{1036}{290}{Direct access hostel}
\Bx{ys}{o13}{1011}{293}{1036}{307}{Bed \& Breakfast}
\Bx{yt}{o14}{1011}{311}{1036}{325}{Mobile home/ caravan}
\Bx{yt}{o15}{1011}{328}{1036}{341}{Any other temporary accommodation}
\Bx{yt}{o16}{1011}{346}{1036}{359}{Home office asylum support}
\Bx{yt}{o17}{1011}{362}{1036}{376}{Children's home/foster care}
\Bx{ys}{o18}{1011}{379}{1036}{393}{Rough sleeping}
\Bx{ys}{o19}{1011}{397}{1036}{410}{Other}
\Bx{yt}{o20}{1011}{413}{1036}{427}{Fixed term local authority general needs tenancy}
\Bx{yt}{o21}{1011}{430}{1036}{443}{Lifetime local authority general needs tenancy}
\Bx{yt}{o22}{1011}{447}{1036}{461}{Fixed term PRP general needs tenancy}
\Bx{yt}{o23}{1011}{464}{1036}{478}{Lifetime PRP general needs tenancy}
\Fan{q11}{o1,o2,o3,o4,o5,o6,o7,o8,o9,o10,o11,o12,o13,o14,o15,o16,o17,o18,o19,o20,o21,o22,o23}
\Bx{bn,font=\fs{1.3}{1.8}}{q11n1}{1040}{97}{1064}{121}{Is there overlap between the options? Is the option for a social tenancy not needed here?}
\Bx{bn,font=\fs{1.3}{1.8}}{q11n2}{1047}{122}{1072}{135}{There are duplicates in the list - is there an explanation for this?}
% Enter LA
\Bx{mq,font=\fs{3.9}{5.8}}{ela}{904}{493}{956}{532}{Enter LA in which\\household lived\\immediately before\\this letting (including\\temporary}
\Dot{955}{494}
\Bx{ys}{lao}{999}{505}{1024}{520}{Options (LA Options)}
\Bx{yt}{lac}{1056}{506}{1081}{520}{LA code/s autofilled here}
\Ln{(ela.east) -- (lao.west)}
\Ln{(lao.east) -- (lac.west)}
\Bx{bn,font=\fs{1.3}{1.8}}{lb1}{1035}{487}{1054}{514}{Could there be an option to enter the code rather than the LA?}
\Bx{bn,font=\fs{1.4}{1.9}}{lb2}{1083}{482}{1107}{495}{Are these the official local authority codes?}
\Bx{bn,font=\fs{1.3}{1.8}}{lb3}{1102}{499}{1126}{512}{Is the code shown to the user before they select?}
\Bx{bn,font=\fs{1.3}{1.8}}{lb4}{1102}{516}{1114}{530}{Might be needed}
\Bx{bn,font=\fs{1.4}{1.9}}{lb5}{1089}{533}{1113}{547}{Can we infer this from the postcode?}
\Bx{bn,font=\fs{2.3}{3}}{lb6}{1120}{527}{1147}{550}{Type Ahead functionality?}
\Fan{lac}{lb3,lb4}
\Ln{(lao.south) to[out=-90,in=180] (lb5.west)}
% Q12b
\Bx{mq,font=\fs{4}{5.9}}{q12b}{904}{543}{978}{609}{Q12b. If the household has\\moved from settled\\accommodation\\(immediately prior to being\\re-housed), enter the full\\postcode for the previous\\accommodation PLEASE\\INCLUDE THE SPACE WHEN\\TYPING POST CODE}
\Dot{978}{544}
\Bx{ys}{pc1}{1013}{555}{1038}{568}{Enter postcode}
\Bx{yt}{pc2}{1013}{583}{1038}{595}{Temporary or unknown or outside England}
\Fan{q12b}{pc1,pc2}
\Bx{bn,font=\fs{1.3}{1.8}}{pcb}{1055}{568}{1081}{581}{Can we auto-fill based on earlier questions or address lookup?}
% Q12c
\Bx{mq,font=\fs{3.9}{5.8}}{q12c}{904}{619}{978}{662}{Q12c. How long has the\\household continuously lived\\in the local authority area\\where the new letting is\\located?}
\Dot{978}{618}
\Bx{ys}{lc1}{1013}{628}{1038}{641}{[options]}
\Bx{ys}{lc2}{1013}{649}{1038}{663}{Don't know}
\Fan{q12c}{lc1,lc2}
\Bx{bn,font=\fs{1.2}{1.6}}{lcb}{1044}{625}{1057}{637}{Does the user know this?}
\Shot{sh1}{1066}{624}{1142}{660}
% Q12d
\Bx{mq,font=\fs{3.9}{5.8}}{q12d}{904}{675}{978}{716}{Q12d. How long has the\\household been in the local\\authority waiting list where\\the new letting is locating?}
\Dot{978}{674}
\Bx{ys}{ld1}{1013}{674}{1038}{688}{[options]}
\Bx{ys}{ld2}{1013}{693}{1038}{707}{Don't know}
\Fan{q12d}{ld1,ld2}
\Bx{bn,font=\fs{1.2}{1.6}}{ldb1}{1041}{673}{1065}{684}{Users don't know how long the household has been on the list}
\Bx{bn,font=\fs{1.2}{1.6}}{ldb2}{1075}{673}{1088}{686}{Is this useful?}
\Bx{bn,font=\fs{1.2}{1.6}}{ldb3}{1041}{687}{1054}{700}{Where is this data?}
\Bx{bn,font=\fs{1.2}{1.6}}{ldb4}{1059}{689}{1073}{701}{Should this be optional?}
\Bx{bn,font=\fs{1.2}{1.6}}{ldb5}{1075}{689}{1088}{701}{Could be a range?}
\Shot{sh2}{1098}{679}{1180}{712}
% homelessness
\Bx{mq}{imp}{907}{732}{980}{758}{Immediately prior this letting,\\was this household...?}
\Dot{980}{732}
\Bx{ys}{ip1}{1013}{725}{1037}{738}{Not homeless}
\Bx{yt}{ip2}{1013}{742}{1037}{753}{Assessed as homeless and owed main duty}
\Bx{ys}{ip3}{1013}{757}{1037}{769}{Other homelessness}
\Fan{imp}{ip1,ip2,ip3}
\Bx{bn,font=\fs{1.3}{1.8}}{ipb1}{1069}{722}{1087}{740}{Is this a good place to ask this?}
\Bx{bn,font=\fs{1.3}{1.8}}{ipb2}{1043}{747}{1068}{758}{Users find it hard to know the difference between these options}
\Bx{bn,font=\fs{1.3}{1.8}}{ipb3}{885}{725}{903}{743}{Reword this question to be clearer?}
% reasonable preference
\Bx{mq,font=\fs{3.9}{5.8}}{rpf}{907}{801}{980}{828}{Was the household given\\Reasonable Preference (i.e.\\priority) for housing by the\\Local Authority?}
\Dot{978}{801}
\Bx{ys}{rp1}{1013}{785}{1038}{798}{Yes}
\Bx{ys}{rp2}{1013}{808}{1038}{820}{No}
\Bx{ys}{rp3}{1013}{830}{1038}{843}{Don't know}
\Fan{rpf}{rp1,rp2,rp3}
\Bx{oq}{ify}{1076}{784}{1149}{812}{If yes, which of the following\\reasons for Reasonable\\Preference apply}
\Ln{(rp1.east) to[out=0,in=180] (ify.west)}
\Bx{yt}{ry1}{1176}{766}{1201}{778}{They were homeless or about to lose their home (within 56 days)}
\Bx{yt}{ry2}{1176}{782}{1201}{795}{Living in insanitary or overcrowded or unsatisfactory housing}
\Bx{yt}{ry3}{1176}{798}{1201}{811}{A need to move on medical and welfare grounds (including disability)}
\Bx{yt}{ry4}{1176}{814}{1201}{828}{A need to move to avoid hardship to themselves or others}
\Bx{ys}{ry5}{1176}{830}{1201}{843}{Don't know}
\Fan{ify}{ry1,ry2,ry3,ry4,ry5}
\Bx{bn,font=\fs{1.2}{1.6}}{rb3}{880}{772}{899}{787}{Does this need to be explained? Do users know?}
\Bx{bn,font=\fs{1.2}{1.6}}{rb4}{903}{781}{923}{794}{Do they have this information?}
\Bx{bn,font=\fs{1.2}{1.6}}{rb5}{930}{772}{956}{784}{Is reasonable preference a term used in all local authorities?}
\Bx{bn,font=\fs{1.3}{1.8}}{rb6}{963}{777}{983}{795}{Is there a way this could be more clear?}
\Bx{bn,font=\fs{1.2}{1.6}}{rb7}{1130}{761}{1149}{778}{Could we link to the relevant guidance?}
\Bx{bn,font=\fs{1.2}{1.6}}{rb8}{1157}{750}{1176}{767}{These options could be grouped under headings}
\Bx{bn,font=\fs{1.2}{1.6}}{rb9}{1206}{758}{1241}{778}{Reasonable preference is given to those who are homeless, living in poor conditions, need to move on medical grounds or to avoid hardship}
\Bx{bn,font=\fs{1.2}{1.6}}{rb10}{1209}{782}{1228}{798}{Is this multiple choice?}
\Bx{bn,font=\fs{1.2}{1.6}}{rb11}{1250}{775}{1268}{793}{Could a user select more than one of these?}
\Bx{bn,font=\fs{1.2}{1.6}}{rb12}{880}{802}{895}{818}{Do people know what reasonable preference is?}
\Bx{bn,font=\fs{1.8}{2.4}}{rb13}{883}{825}{902}{842}{Guidance about this?}
\Ln{(rb3.east) -- (ry1.east)}
\Ln{(rb4.east) to[out=0,in=180] (rb5.west)}
\Ln{(ry1.east) to[out=0,in=180] (rb11.west)}
% Q15
\Bx{mq}{q15}{907}{850}{1004}{867}{Q15. Was the letting made under any of\\the following allocation systems?}
\Dot{1004}{850}
\Bx{mq}{cbl}{907}{878}{973}{894}{Choice-based lettings (CBL)}
\Bx{ys}{cb1}{987}{871}{1012}{883}{Yes}
\Bx{ys}{cb2}{987}{887}{1012}{900}{No}
\Fan{cbl}{cb1,cb2}
\Bx{mq}{chr}{907}{911}{973}{927}{Common housing register\\(CHR)}
\Bx{ys}{ch1}{987}{903}{1012}{916}{Yes}
\Bx{ys}{ch2}{987}{919}{1012}{933}{No}
\Fan{chr}{ch1,ch2}
\Bx{mq}{cap}{907}{943}{973}{959}{Common Allocation Policy\\(CAP)}
\Bx{ys}{ca1}{987}{934}{1012}{948}{Yes}
\Bx{ys}{ca2}{987}{951}{1012}{964}{No}
\Fan{cap}{ca1,ca2}
\draw[black!15] (1017,857) -- (1017,963);
\Bx{mq}{q16}{907}{972}{973}{988}{Q16. What was the source of\\referral for this letting?}
\St{s8}{902}{973}
\Bx{ys}{q16o}{987}{972}{1012}{986}{[opts]}
\Ln{(q16.east) -- (q16o.west)}
\node[tn, font=\bfseries\fs{1.9}{2.4}] (rac) at (906,993) {Rent and Charges};
\Bx{bn,font=\fs{1.3}{1.8}}{qb1}{1032}{857}{1052}{870}{Are the options mutually exclusive or can they combine?}
\Bx{bn,font=\fs{1.6}{2.1}}{qb2}{1072}{860}{1092}{878}{If we skip other questions?}
\Bx{bn,font=\fs{2}{2.7}}{qb3}{1027}{883}{1071}{905}{Could this be a bunch of check boxes for one question?}
\Bx{bn,font=\fs{1.3}{1.8}}{qb4}{1023}{912}{1048}{925}{Should the definitions of any of these terms be provided?}
\Bx{bn,font=\fs{1.5}{2}}{qb5}{1058}{910}{1093}{928}{Users have told us that they know what CBL is, but aren't so sure about CHR or CAP}
\Bx{bn,font=\fs{1.9}{2.5}}{qb6}{1027}{946}{1046}{963}{None of the above}
\Bx{bn,font=\fs{1.3}{1.8}}{qb7}{1051}{946}{1071}{963}{Is there a need for an option for when none of these apply?}
\Ln{(qb1.east) to[out=0,in=180] (qb2.west)}
\Shot{sh3}{1026}{970}{1175}{993}
\Bx{bn,font=\fs{1.2}{1.6}}{qb8}{1183}{981}{1196}{995}{Are these all needed?}
% Q17 / Q18
\Bx{mq,font=\fs{7.3}{10.8}}{q17}{912}{1043}{1003}{1088}{Q17 Over what period\\are rent and other\\charges due}
\Dot{1002}{1043}
\Bx{yo,font=\fs{8.5}{10}}{q17o}{1072}{1051}{1122}{1078}{[opts]}
\Ln{(q17.east) -- (q17o.west)}
\Shot{sh4}{1138}{1057}{1263}{1090}
\Bx{bn,font=\fs{1.3}{1.8}}{q17b}{1272}{1066}{1285}{1080}{Is this list complete?}
\Bx{mq,font=\fs{5.4}{7}}{q18a}{912}{1094}{1003}{1129}{Q18a Rent and Charges}
\Dot{1002}{1095}
\Bx{mq,font=\fs{5.3}{7}}{brn}{948}{1145}{1003}{1168}{Basic Rent}
\Bx{yo,font=\fs{7.8}{10.5}}{ev1}{1038}{1142}{1065}{1169}{Enter value}
\Bx{oq,font=\fs{4.9}{7.6}}{svc}{948}{1182}{1003}{1209}{Service charge\\(eligible for HB or\\UC)}
\Bx{yo,font=\fs{7.8}{10.5}}{ev2}{1038}{1180}{1065}{1208}{Enter value}
\Bx{oq,font=\fs{4.9}{7.6}}{psc}{947}{1223}{1003}{1249}{ii) Personal\\service charge (not\\eligible for HB or}
\Bx{yo,font=\fs{7.8}{10.5}}{ev3}{1040}{1225}{1067}{1253}{Enter value}
\Bx{oq,font=\fs{4.9}{7.6}}{spt}{931}{1263}{1018}{1303}{iv) Support charge (charges\\made to fund housing related\\support services included in\\the tenancy agreement).}
\Bx{yo,font=\fs{7.8}{10.5}}{ev4}{1040}{1267}{1067}{1296}{Enter value}
\Bx{mq,font=\fs{5.2}{7}}{tch}{947}{1313}{1003}{1336}{Total Charges}
\Bx{yo,font=\fs{4}{6.3}}{tvd}{1040}{1309}{1067}{1336}{Total value displayed}
\Ln{(q18a.south) to[out=-90,in=90] (930,1148) to[out=-90,in=180] (brn.west)}
\Ln{(brn.south) -- (svc.north)}
\Ln{(svc.south) -- (psc.north)}
\Ln{($(psc.south)+(-1,0)$) -- ($(spt.north)+(-0.5,0)$)}
\Ln{($(spt.south)+(0,0)$) -- (tch.north-|spt.south)}
\Ln{(brn.east) -- (ev1.west)}
\Ln{(svc.east) -- (ev2.west)}
\Ln{(psc.east) -- (ev3.west)}
\Ln{(spt.east) -- (ev4.west)}
\Ln{(tch.east) -- (tvd.west)}
\Bx{bn,font=\fs{1.3}{1.8}}{svb}{1106}{1192}{1142}{1211}{Users may not know which charges are eligible for housing benefit or universal credit. How do we support them to know?}
% Q18d cloud
\Bx{cq,font=\fs{5.1}{7.6}}{q18d}{929}{1349}{1020}{1417}{Q18d After housing benefit\\and/or housing element of UC\\payment is received, will there\\be an outstanding amount for\\basic rent (18ai) and/or\\benefit eligible charges (18aii)?}
\Dot{1018}{1351}
\Bx{yo,font=\fs{8.5}{10}}{dY}{1066}{1348}{1093}{1377}{Yes}
\Bx{yo,font=\fs{8.5}{10}}{dN}{1066}{1396}{1093}{1423}{No}
\Fan{q18d}{dY,dN}
\Bx{cq,font=\fs{4.9}{7.6}}{dif}{1127}{1349}{1203}{1378}{If yes, what do you expect\\the amount to be (for\\period shown in Q17)}
\Bx{yo,font=\fs{5.8}{7}}{amt}{1219}{1349}{1246}{1377}{amount}
\Ln{(dY.east) -- (dif.west)}
\Ln{(dif.east) -- (amt.west)}
\node[mp, font=\fs{9.3}{11}] (mp5) at (1109,1420) {Multipart question};
% Q19 - Q21
\Bx{mq,font=\fs{6.3}{8}}{q19}{932}{1462}{1119}{1496}{Q19 Key Dates (e.g. 12/05/2020)}
\Bx{mq,font=\fs{6.5}{10}}{vd}{932}{1518}{1013}{1552}{Void (or new build\\handover / renewal)\\date}
\Dot{1010}{1519}
\Bx{yo,font=\fs{8.5}{10}}{dt1}{1068}{1520}{1096}{1549}{Date}
\Ln{(vd.east) -- (dt1.west)}
\Bx{oq,font=\fs{6.5}{10}}{mjr}{934}{1567}{1013}{1601}{Major repairs\\completion date (if\\major repairs carried}
\Dot{1012}{1566}
\Bx{yo,font=\fs{8.5}{10}}{dt2}{1066}{1568}{1094}{1597}{Date}
\Ln{(mjr.east) -- (dt2.west)}
\Bx{mq,font=\fs{6.3}{10}}{q20}{836}{1660}{1023}{1743}{Q20 How many times has this unit been previously\\offered since becoming available for relet since the\\last tenancy ended or as a first let? For an\\Affordable Rent or Intermediate Rent Letting, only\\include number of offers as that type.\\[8pt](for a property let at the first attempt enter '0')}
\Dot{1021}{1661}
\Bx{yo,font=\fs{8.5}{10}}{int}{1071}{1686}{1099}{1714}{Int}
\Ln{(q20.east) -- (int.west)}
\Bx{bn,font=\fs{1.5}{2}}{q20b}{1043}{1653}{1079}{1673}{Users get confused by this question because it is too wordy}
\Bx{mq,font=\fs{6.4}{10}}{q21}{937}{1767}{1023}{1789}{Q21a Property\\reference}
\Dot{1021}{1766}
\Bx{yo,font=\fs{3.8}{5}}{epr}{1074}{1763}{1101}{1791}{enter property reference}
\Ln{(q21.east) -- (epr.west)}
% ---------------- Property details
\node[ttl] (tpd) at (1164,45) {Property Details};
\LgX{x1}{1167}{58}{cSoc}{Core Social Rent Supported Housing}
\LgX{x2}{1167}{67}{cInt}{Core Intermediate Rent Supported Housing}
\LgX{x3}{1167}{76}{cAff}{Core Affordable Rent Supported Housing}
\Bx{mq,font=\fs{4}{6}}{q22}{1164}{82}{1227}{119}{22. Number of bedrooms\\(if shared\\accommodation, enter\\number of bedrooms\\occupied by this}
\Dot{1225}{87}
\Bx{ys}{q22a}{1250}{84}{1276}{99}{Enter number}
\Bx{yt}{q22b}{1250}{102}{1276}{116}{Override (for validation)}
\Fan{q22}{q22a,q22b}
\Bx{bb,font=\fs{1.3}{1.8}}{q22n}{1280}{87}{1301}{107}{Why does this need validation? Is this a bit arbitrary? Is a sense check needed?}
\LgX{x4}{1167}{134}{cSoc}{Core Social Rent Supported Housing}
\LgX{x5}{1167}{140}{cInt}{Core Intermediate Rent Supported Housing}
\LgX{x6}{1167}{147}{cAff}{Core Affordable Rent Supported Housing}
\Bx{mq}{q23}{1164}{152}{1227}{171}{23. Type of unit}
\Dot{1225}{155}
\Bx{ys}{q23o}{1250}{154}{1268}{168}{[opts]}
\Bx{bb,font=\fs{2.5}{3.4}}{q23n}{1274}{151}{1294}{171}{Ask this first}
\Ln{(q23.east) -- (q23o.west)}
\Ln{(q22.west) to[out=180,in=180,looseness=1.4] (q23.west)}
\LgX{x7}{1170}{180}{cSoc}{Core Social Rent Supported Housing}
\LgX{x8}{1170}{187}{cInt}{Core Intermediate Rent Supported Housing}
\LgX{x9}{1170}{194}{cAff}{Core Affordable Rent Supported Housing}
\Bx{mq}{q24}{1167}{201}{1229}{219}{24. Type of building}
\Dot{1227}{201}
\Bx{ys}{q24a}{1253}{193}{1277}{207}{Purpose built}
\Bx{yt}{q24b}{1253}{210}{1277}{223}{Converted from previous residential or non-residential property}
\Fan{q24}{q24a,q24b}
\Bx{bb,font=\fs{1.4}{1.9}}{q24n}{1282}{191}{1322}{231}{Change question wording e.g. Was the building built or converted to a purpose built? Or if not converted from previous residential or non-residential property}
\Bx{mq}{q25}{1167}{237}{1229}{261}{25. Is property built or\\adapted to wheelchair\\user standards?}
\Dot{1229}{239}
\Bx{ys}{q25a}{1253}{234}{1277}{247}{Yes}
\Bx{ys}{q25b}{1253}{251}{1277}{264}{No}
\Fan{q25}{q25a,q25b}
\Bx{bb,font=\fs{2.3}{3.1}}{pt2}{1107}{162}{1152}{202}{Put these 2 questions at the end of the section - breaks up the current flow}
\Ln{(pt2.east) to[out=0,in=180] (q24.west)}
\Ln{(pt2.east) to[out=0,in=180] (q25.west)}
\LgX{x10}{1170}{274}{cSoc}{Core Social Rent Supported Housing}
\LgX{x11}{1167}{282}{cInt}{Core Intermediate Rent Supported Housing}
\LgX{x12}{1167}{289}{cAff}{Core Affordable Rent Supported Housing}
\Bx{mq}{q26}{1167}{296}{1229}{321}{26. If this is a relet, was\\the property most\\recently let on}
\Dot{1227}{297}
\Bx{yt}{q26a}{1253}{275}{1277}{288}{A social rent basis}
\Bx{yt}{q26b}{1253}{293}{1277}{307}{An affordable rent basis}
\Bx{yt}{q26c}{1253}{311}{1277}{325}{An intermediate rent basis}
\Bx{ys}{q26d}{1253}{328}{1277}{340}{Don't know}
\Fan{q26}{q26a,q26b,q26c,q26d}
\Bx{bn,font=\fs{1.3}{1.8}}{q26n}{1279}{293}{1299}{313}{Know by answer to "reason for vacancy"}
\Bx{bn,font=\fs{1.3}{1.8}}{q26m}{1301}{280}{1337}{298}{Would it be true, are we asking about the most recently let property, or the let before this?}
\Shot{sh5}{1324}{298}{1416}{359}
\Bx{mq}{q27}{1167}{362}{1229}{386}{27. Reason for vacancy}
\Dot{1228}{361}
\Bx{ys}{q27o}{1255}{367}{1279}{380}{[opts]}
\Ln{(q27.east) -- (q27o.west)}
\Bx{bn,font=\fs{1.3}{1.8}}{q27n}{1281}{363}{1301}{383}{Ask the bottom of the re-let and link the property let question}
\Ln{(q26.south) to[out=-90,in=90] (q27n.north)}
\Ln{(q26.west) to[out=180,in=180,looseness=1.4] (q27.west)}
\LgX{x13}{1167}{396}{cSoc}{Core Social Rent Supported Housing}
\LgX{x14}{1164}{404}{cInt}{Core Intermediate Rent Supported Housing}
\LgX{x15}{1164}{411}{cAff}{Core Affordable Rent Supported Housing}
\Bx{mq}{q28}{1164}{419}{1226}{443}{28. Location of property -\\name of local authority}
\Dot{1225}{419}
\Bx{ys}{q28o}{1252}{423}{1277}{437}{[opts]}
\Bx{yt}{q28c}{1292}{424}{1317}{437}{ONS LA code autofilled}
\Ln{(q28.east) -- (q28o.west)}
\Ln{(q28o.east) -- (q28c.west)}
\LgX{x16}{1167}{453}{cSoc}{Core Social Rent Supported Housing}
\LgX{x17}{1164}{461}{cInt}{Core Intermediate Rent Supported Housing}
\LgX{x18}{1167}{467}{cAff}{Core Affordable Rent Supported Housing}
\Bx{mq}{q29}{1164}{473}{1226}{497}{29. Full postcode of\\property}
\Dot{1225}{474}
\Bx{ys}{q29o}{1252}{479}{1277}{493}{Type in postcode}
\Ln{(q29.east) -- (q29o.west)}
\Bx{bb,font=\fs{1.2}{1.6}}{q29n}{1283}{474}{1303}{494}{Could this be collected automatically from the property record?}
\Ln{(q28.west) to[out=180,in=180,looseness=1.4] (q29.west)}
\Shot{sh6}{1327}{121}{1414}{144}
% ---------------- table
\node[tn, font=\fs{1.6}{2}, text=black!60] (tix) at (1646,79) {Tos Index};
\fill[black!4] (1646,83) rectangle (1918,102);
\draw[gridc, line width=0.6pt] (1646,83) rectangle (1918,588);
\foreach \cx in {1692,1738,1783,1828,1872}{\draw[gridc, line width=0.6pt] (\cx,83) -- (\cx,588);}
\foreach \hx/\htx [count=\i] in {1669/{"Stories for 'All' cards"},1715/{Actual rank},1760/{Problem},1805/{Design ideas},1850/{Risks n' questions},1895/{T-shirt size}}{
 \node[font=\bfseries\fs{2.2}{2.8}, text=tabh, inner sep=0pt] (th\i) at (\hx,92.5) {\htx};}
\foreach \ya/\yb/\lab [count=\i] in {102/150/1,150/177/2,177/203/3,203/229/4,229/257/5,257/292/6,292/327/7,327/363/8,363/399/9,399/425/10,425/451/11,451/478/12,478/507/13,507/537/14,537/563/15,563/588/EPIC}{
 \draw[gridc, line width=0.6pt] (1646,\yb) -- (1918,\yb);
 \pgfmathsetmacro\yc{(\ya+\yb)/2}
 \node[font=\bfseries\fs{3}{4}, text=tabh, inner sep=0pt] (tr\i) at (1669,\yc) {\lab};
 \foreach \cx/\cw in {1742/30,1787/32,1832/28}{
  \foreach \dy/\fr in {-4/0.9,-1.3/0.7,1.4/0.95,4.1/0.5}{
   \draw[black!28, line width=0.55pt] ({\cx},{\yc+(\dy)}) -- ++({\cw*\fr},0);
  }
 }
 \draw[black!28, line width=0.55pt] (1875,\yc) -- ++(3,0);
}
\end{tikzpicture}
\end{document}
